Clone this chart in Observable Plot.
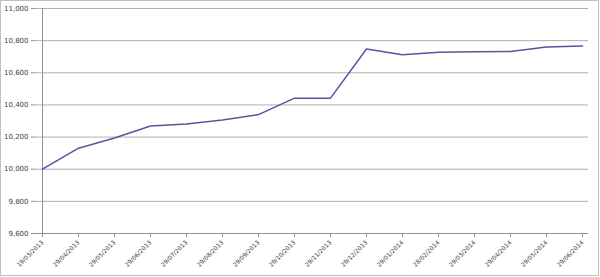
<!DOCTYPE html>
<html><head><meta charset="utf-8">
<script src="https://cdn.jsdelivr.net/npm/d3@7"></script>
<script src="https://cdn.jsdelivr.net/npm/@observablehq/plot@0.6"></script>
<style>
body{margin:0;background:#fff;}
#wrap{width:597px;height:274px;border:1px solid #c0c0c0;overflow:hidden;}
svg{font-family:Tahoma,"DejaVu Sans",Verdana,sans-serif;}
</style></head><body><div id="wrap"></div>
<script>
const dates = ["19/03/2013","29/04/2013","29/05/2013","29/06/2013","29/07/2013","29/08/2013","29/09/2013","29/10/2013","29/11/2013","29/12/2013","29/01/2014","28/02/2014","29/03/2014","29/04/2014","29/05/2014","29/06/2014"];
const values = [10000,10131,10194,10269,10281,10306,10340,10442,10442,10748,10712,10728,10731,10733,10760,10766];
const yTicks = [9600,9800,10000,10200,10400,10600,10800,11000];

const data = dates.map((d,i)=>({date:d, value:values[i]}));
const chart = Plot.plot({
  width:597, height:274,
  marginLeft:34, marginRight:10, marginTop:7, marginBottom:42,
  style:{fontSize:"7px", color:"#404040", background:"transparent"},
  x:{type:"point", domain:dates, padding:0, label:null},
  y:{domain:[9600,11000], label:null},
  marks:[
    Plot.gridY(yTicks,{stroke:"#b0b0b0", strokeOpacity:1, strokeWidth:1}),
    Plot.axisY({ticks:yTicks, tickFormat:d3.format(","), tickSize:4, tickPadding:3, stroke:"#909090", label:null}),
    Plot.axisX({tickRotate:-45, tickSize:4, tickPadding:4, fontSize:6, stroke:"#909090", label:null}),
    Plot.ruleY([9600],{stroke:"#909090"}),
    Plot.ruleX([dates[0]],{stroke:"#909090"}),
    Plot.line(data,{x:"date", y:"value", stroke:"#5a529e", strokeWidth:1.5})
  ]
});
document.getElementById("wrap").appendChild(chart);
</script></body></html>
